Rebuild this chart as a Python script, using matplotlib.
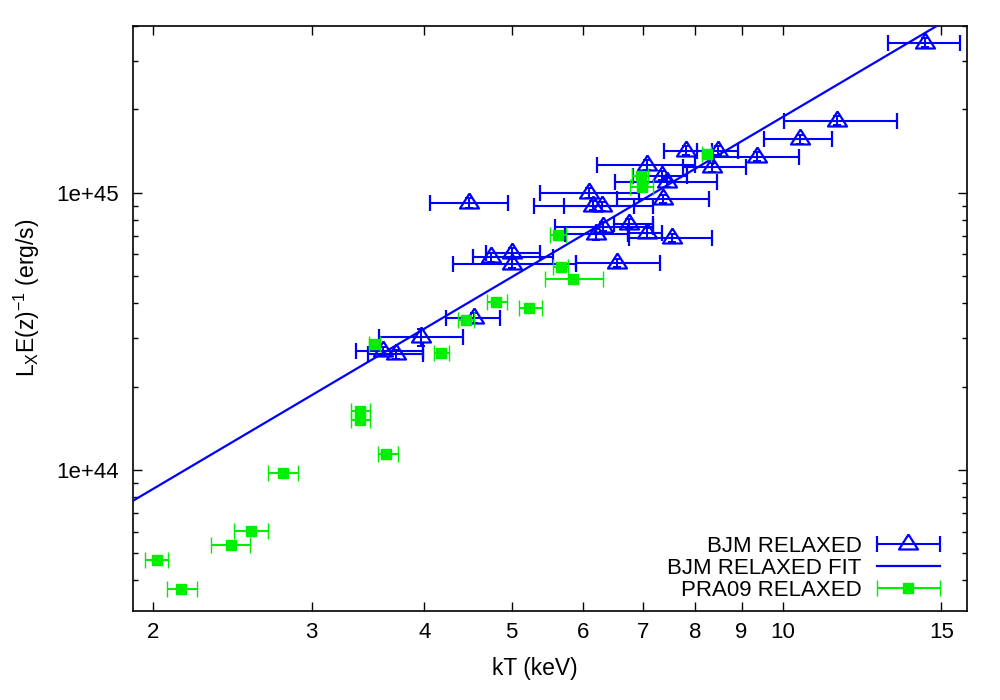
import numpy as np
import matplotlib
matplotlib.use('Agg')
import matplotlib.pyplot as plt
from matplotlib.ticker import FixedLocator, FixedFormatter, LogLocator, NullFormatter, NullLocator
from matplotlib.container import ErrorbarContainer
from matplotlib.legend_handler import HandlerErrorbar

plt.rcParams['font.family'] = ['Liberation Sans', 'DejaVu Sans']
plt.rcParams['mathtext.default'] = 'regular'

# ---------------- data ----------------
# BJM RELAXED (kT in keV, L in units of 1e44 erg/s)
bjm_kT    = [14.37, 11.50, 10.45, 9.36, 8.48, 7.80, 8.35, 7.06, 7.35, 7.43, 6.10, 7.36, 6.15, 6.30,
             6.31, 6.21, 6.75, 7.06, 7.54, 6.54, 4.74, 5.00, 5.00, 4.49, 4.54, 3.97, 3.60, 3.72]
bjm_kT_lo = [13.10, 10.03, 9.54, 8.37, 8.03, 7.39, 7.74, 6.22, 6.82, 6.52, 5.37, 6.55, 5.30, 5.72,
             5.59, 5.73, 6.50, 6.74, 6.75, 5.89, 4.53, 4.68, 4.31, 4.06, 4.23, 3.56, 3.36, 3.46]
bjm_kT_hi = [15.71, 13.39, 11.34, 10.43, 8.92, 8.35, 9.10, 7.99, 7.82, 8.46, 6.92, 8.28, 7.17, 6.84,
             7.18, 6.73, 7.18, 7.34, 8.34, 7.31, 5.56, 5.38, 5.89, 4.96, 4.85, 4.42, 3.99, 3.99]
bjm_L     = [34.85, 18.21, 15.60, 13.51, 14.20, 14.20, 12.36, 12.61, 11.54, 10.92, 10.00, 9.51, 9.00, 8.93,
             7.56, 7.08, 7.73, 7.19, 6.88, 5.58, 5.85, 6.05, 5.56, 9.20, 3.55, 3.02, 2.69, 2.62]
bjm_L_err = [1.40, 0.70, 0.60, 0.50, 0.50, 0.50, 0.50, 0.50, 0.45, 0.40, 0.40, 0.35, 0.35, 0.35,
             0.30, 0.30, 0.30, 0.30, 0.25, 0.20, 0.20, 0.25, 0.20, 0.35, 0.15, 0.22, 0.10, 0.10]

# PRA09 RELAXED
pra_kT    = [2.02, 2.15, 2.44, 2.57, 2.79, 3.39, 3.39, 3.63, 3.52, 4.17, 4.45, 4.80, 5.23, 5.63,
             5.67, 5.85, 6.96, 6.97, 8.23]
pra_kT_lo = [1.96, 2.07, 2.32, 2.46, 2.68, 3.32, 3.32, 3.55, 3.47, 4.10, 4.36, 4.69, 5.09, 5.52,
             5.56, 5.45, 6.80, 6.77, 8.13]
pra_kT_hi = [2.08, 2.24, 2.56, 2.68, 2.90, 3.48, 3.48, 3.74, 3.57, 4.26, 4.54, 4.94, 5.40, 5.74,
             5.78, 6.31, 7.09, 7.17, 8.33]
pra_L     = [0.472, 0.372, 0.536, 0.605, 0.973, 1.635, 1.52, 1.14, 2.86, 2.65, 3.49, 4.03, 3.85, 7.02,
             5.40, 4.87, 11.54, 10.54, 13.82]

L_unit = 1e44

# BJM RELAXED FIT: L = fit_norm * (kT / fit_pivot) ** fit_slope
fit_norm = 1e45
fit_pivot = 7.2
fit_slope = 1.92

x_ticks = [2, 3, 4, 5, 6, 7, 8, 9, 10, 15]
x_tick_labels = ['2', '3', '4', '5', '6', '7', '8', '9', '10', '15']
y_ticks = [1e44, 1e45]
y_tick_labels = ['1e+44', '1e+45']
x_range = (1.9, 16.0)
y_range = (3.1e43, 4.0e45)

blue = '#0000ff'
green = '#00ee00'

# ---------------- plot ----------------
fig = plt.figure(figsize=(10, 7), dpi=100)
ax = fig.add_axes([0.133, 0.1271, 0.8337, 0.8358])
ax.set_xscale('log')
ax.set_yscale('log')

bk = np.array(bjm_kT)
bL = np.array(bjm_L) * L_unit
bxerr = [bk - np.array(bjm_kT_lo), np.array(bjm_kT_hi) - bk]
byerr = np.array(bjm_L_err) * L_unit

tri = [(0, 10), (-9.5, -5), (9.5, -5), (0, 10)]

ax.errorbar(bk, bL, yerr=byerr, fmt='none', ecolor=blue, elinewidth=1.4,
            capsize=3, capthick=1.4, zorder=2)
h_bjm = ax.errorbar(bk, bL, xerr=bxerr, marker=tri, ls='none', ms=14.4, mfc='none',
                    mec=blue, mew=1.6, ecolor=blue, elinewidth=1.5, capsize=5.5,
                    capthick=1.5, zorder=2, label='BJM RELAXED')

xf = np.geomspace(x_range[0], x_range[1], 300)
h_fit, = ax.plot(xf, fit_norm * (xf / fit_pivot) ** fit_slope, color=blue, lw=1.6,
                 zorder=3, label='BJM RELAXED FIT')

pk = np.array(pra_kT)
pL = np.array(pra_L) * L_unit
pxerr = [pk - np.array(pra_kT_lo), np.array(pra_kT_hi) - pk]
h_pra = ax.errorbar(pk, pL, xerr=pxerr, marker='s', ls='none', ms=7.8, mfc=green,
                    mec=green, mew=1.0, ecolor=green, elinewidth=1.5, capsize=5.5,
                    capthick=1.5, zorder=4, label='PRA09 RELAXED')

ax.set_xlim(*x_range)
ax.set_ylim(*y_range)

ax.xaxis.set_major_locator(FixedLocator(x_ticks))
ax.xaxis.set_major_formatter(FixedFormatter(x_tick_labels))
ax.xaxis.set_minor_locator(NullLocator())
ax.yaxis.set_major_locator(FixedLocator(y_ticks))
ax.yaxis.set_major_formatter(FixedFormatter(y_tick_labels))
ax.yaxis.set_minor_locator(LogLocator(base=10, subs=(2, 3, 4, 5, 6, 7, 8, 9)))
ax.yaxis.set_minor_formatter(NullFormatter())

ax.tick_params(which='both', direction='in', top=True, right=True, labelsize=16, width=1.0)
ax.tick_params(which='major', length=6.5)
ax.tick_params(which='minor', length=3.3)
ax.tick_params(axis='x', which='major', pad=7.8)
ax.tick_params(axis='y', which='major', pad=10.5)
for s in ax.spines.values():
    s.set_linewidth(1.2)

ax.set_xlabel('kT (keV)', fontsize=16.5, va='center')
ax.xaxis.set_label_coords(0.482, -0.0974)
ax.set_ylabel('L$_X$E(z)$^{-1}$ (erg/s)', fontsize=16.5, va='center')
ax.yaxis.set_label_coords(-0.127, 0.535)

ax.legend([h_bjm, h_fit, h_pra], ['BJM RELAXED', 'BJM RELAXED FIT', 'PRA09 RELAXED'],
          loc='lower right', bbox_to_anchor=(0.968, 0.017), frameon=False,
          markerfirst=False, handlelength=2.84, handletextpad=0.68, labelspacing=0.05,
          borderpad=0, borderaxespad=0, fontsize=16,
          handler_map={ErrorbarContainer: HandlerErrorbar(xerr_size=1.42)})

fig.savefig('out.png', dpi=100)
